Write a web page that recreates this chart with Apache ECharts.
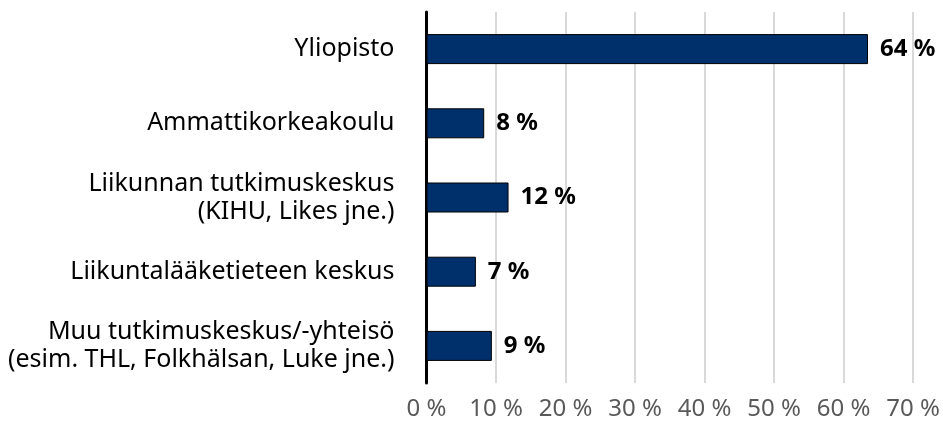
<!DOCTYPE html>
<html>
<head>
<meta charset="utf-8">
<script src="https://cdn.jsdelivr.net/npm/echarts@6/dist/echarts.min.js"></script>
<style>
html,body{margin:0;padding:0;background:#fff;}
#chart{width:943px;height:427px;}
</style>
</head>
<body>
<div id="chart"></div>
<script>
const categories = [
  "Yliopisto",
  "Ammattikorkeakoulu",
  "Liikunnan tutkimuskeskus\n(KIHU, Likes jne.)",
  "Liikuntalääketieteen keskus",
  "Muu tutkimuskeskus/-yhteisö\n(esim. THL, Folkhälsan, Luke jne.)"
];
const values = [63.5, 8.3, 11.8, 7.1, 9.4];
const xTicks = [0, 10, 20, 30, 40, 50, 60, 70];

const FONT = '"Noto Sans", "Open Sans", sans-serif';
const chart = echarts.init(document.getElementById('chart'), null, {renderer: 'canvas'});
chart.setOption({
  backgroundColor: '#ffffff',
  animation: false,
  grid: {left: 426.5, right: 25, top: 12, bottom: 44, containLabel: false},
  xAxis: {
    type: 'value',
    min: xTicks[0],
    max: xTicks[xTicks.length - 1],
    interval: 10,
    axisLine: {show: false},
    axisTick: {show: false},
    splitLine: {show: true, lineStyle: {color: '#d9d9d9', width: 2}},
    axisLabel: {
      color: '#595959', fontSize: 24, fontFamily: FONT, margin: 14,
      formatter: v => v + ' %'
    }
  },
  yAxis: {
    type: 'category',
    data: categories,
    inverse: true,
    axisLine: {show: true, lineStyle: {color: '#000000', width: 3}},
    axisTick: {show: false},
    axisLabel: {
      color: '#000000', fontSize: 25, fontFamily: FONT, margin: 32,
      lineHeight: 28, align: 'right'
    }
  },
  series: [{
    type: 'bar',
    data: values,
    barWidth: 30,
    itemStyle: {color: '#00306b', borderColor: '#000000', borderWidth: 1},
    label: {
      show: true, position: 'right', distance: 12,
      color: '#000000', fontSize: 24, fontWeight: 'bold', fontFamily: FONT,
      formatter: p => Math.round(p.value) + ' %'
    }
  }]
});
</script>
</body>
</html>
